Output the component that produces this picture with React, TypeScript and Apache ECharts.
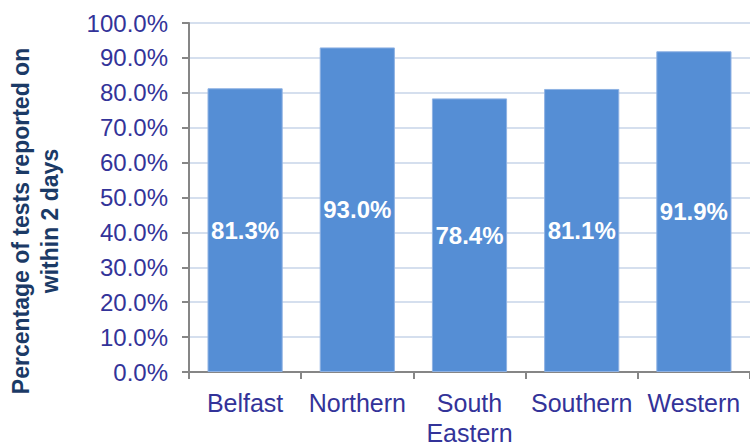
import React, { useEffect, useRef } from "react";
import * as echarts from "echarts";

const categories = ["Belfast", "Northern", "South\nEastern", "Southern", "Western"];
const values = [81.3, 93.0, 78.4, 81.1, 91.9];
const yTitleLines = ["Percentage of tests reported on", "within 2 days"];

export default function App() {
  const ref = useRef<HTMLDivElement>(null);
  useEffect(() => {
    if (!ref.current) return;
    const chart = echarts.init(ref.current, undefined, { renderer: "svg" });
    const font = "Liberation Sans, Arial, sans-serif";
    chart.setOption({
      animation: false,
      grid: { left: 189, top: 23, width: 565, bottom: 71, containLabel: false },
      xAxis: {
        type: "category",
        data: categories,
        axisLine: { show: true, lineStyle: { color: "#868686", width: 2 } },
        axisTick: { show: true, length: 7, lineStyle: { color: "#868686", width: 2 } },
        axisLabel: {
          color: "#333399",
          fontSize: 25,
          fontFamily: font,
          margin: 16,
          lineHeight: 30,
          interval: 0,
        },
      },
      yAxis: {
        type: "value",
        min: 0,
        max: 100,
        interval: 10,
        axisLine: { show: true, lineStyle: { color: "#868686", width: 2 } },
        axisTick: { show: true, length: 7, lineStyle: { color: "#868686", width: 2 } },
        splitLine: { show: true, lineStyle: { color: "#D5DFEE", width: 2 } },
        axisLabel: {
          color: "#333399",
          fontSize: 24,
          fontFamily: font,
          margin: 21,
          formatter: (v: number) => v.toFixed(1) + "%",
        },
      },
      series: [
        {
          type: "bar",
          data: values,
          barWidth: "67%",
          itemStyle: { color: "#558ED5", borderColor: "#8FB2E3", borderWidth: 1 },
          label: {
            show: true,
            position: "inside",
            color: "#FFFFFF",
            fontWeight: "bold",
            fontSize: 24,
            fontFamily: font,
            formatter: (p: any) => Number(p.value).toFixed(1) + "%",
          },
        },
      ],
      graphic: [
        {
          type: "text",
          x: 35,
          y: 221,
          rotation: Math.PI / 2,
          style: {
            text: yTitleLines.join("\n"),
            fill: "#1B3A66",
            font: "bold 23px Liberation Sans, Arial, sans-serif",
            textAlign: "center",
            textVerticalAlign: "middle",
            lineHeight: 29,
          },
        },
      ],
    });
    return () => chart.dispose();
  }, []);
  return <div ref={ref} style={{ width: 750, height: 448, position: "absolute", left: 0, top: 0 }} />;
}
